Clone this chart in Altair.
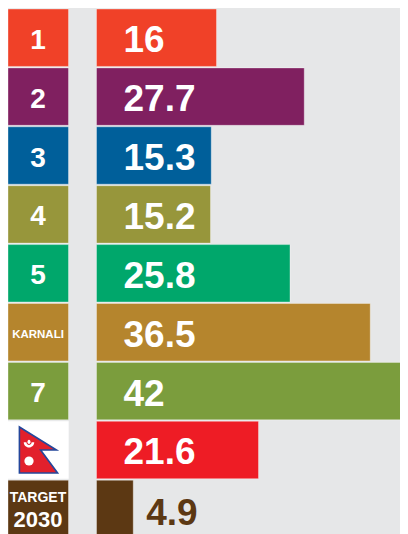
import altair as alt
import pandas as pd

rows = ["1", "2", "3", "4", "5", "KARNALI", "7", "NEPAL", "TARGET"]
values = [16, 27.7, 15.3, 15.2, 25.8, 36.5, 42, 21.6, 4.9]
value_labels = ["16", "27.7", "15.3", "15.2", "25.8", "36.5", "42", "21.6", "4.9"]
colors = ["#f04128", "#802060", "#005f9a", "#97963b", "#00a76b",
          "#b5852d", "#7b9d3d", "#ee1c25", "#5c3813"]
box_colors = colors[:7] + ["#ffffff"] + colors[8:]
BG = "#e6e7e8"
FONT = "Liberation Sans"

FLAG = "M-0.83,-1 L0.78,0 L0.09,0 L0.83,1 L-0.83,1 Z"
MOON = "M-1,-0.5 A1,1 0 0 0 1,-0.5 L0.5,-0.5 A0.5,0.5 0 0 1 -0.5,-0.5 Z M-0.3,-0.5 A0.3,0.3 0 0 0 0.3,-0.5 A0.3,0.5 0 0 0 -0.3,-0.5 Z"

df = pd.DataFrame({"row": rows, "value": values, "label": value_labels,
                   "color": colors, "box": box_colors})

W, H = 392, 526
y = alt.Y("row:N", axis=None, sort=rows,
          scale=alt.Scale(domain=rows, range=[1, 529.6], paddingInner=0.025, paddingOuter=0))
x_scale = alt.Scale(domain=[0, (W - 88.5) / 7.5], range=[88.5, W], nice=False)
x = alt.X("value:Q", axis=None, scale=x_scale)
edge = dict(stroke="#ffffff", strokeOpacity=0.35, strokeWidth=1)

boxes = alt.Chart(df).mark_bar(clip=True, **edge).encode(
    x=alt.value(0), x2=alt.value(60.5), y=y, color=alt.Color("box:N", scale=None))


def box_text(row, text, size, dy=0, weight="bold"):
    return alt.Chart(df).transform_filter(alt.datum.row == row).mark_text(
        text=text, fontSize=size, font=FONT, fontWeight=weight, color="#ffffff", dy=dy
    ).encode(x=alt.value(30), y=y)


digits = [box_text(r, r, 28, 3) for r in ["1", "2", "3", "4", "5", "7"]]
karnali = box_text("KARNALI", "KARNALI", 11.5, 3)
target = box_text("TARGET", "TARGET", 14, -11)
year = box_text("TARGET", "2030", 22, 11)


def flag_point(shape, size, fill, dx, dy, **kw):
    return alt.Chart(df).transform_filter(alt.datum.row == "NEPAL").mark_point(
        shape=shape, size=size, filled=True, fill=fill, opacity=1, xOffset=dx, yOffset=dy, **kw
    ).encode(x=alt.value(30), y=y)


flag = flag_point(FLAG, 2116, "#e2202c", 0.5, 0, stroke="#24479b", strokeWidth=1.6)
moon = flag_point(MOON, 110, "#ffffff", -9, -5)
sun = flag_point("circle", 85, "#ffffff", -9, 11)

bars = alt.Chart(df).mark_bar(clip=True, **edge).encode(
    x=x, y=y, color=alt.Color("color:N", scale=None))
inside = alt.Chart(df).transform_filter(alt.datum.row != "TARGET").mark_text(
    align="left", dx=115.5, dy=3.5, fontSize=37, font=FONT, fontWeight="bold", color="#ffffff"
).encode(x=alt.value(0), y=y, text="label:N")
outside = alt.Chart(df).transform_filter(alt.datum.row == "TARGET").mark_text(
    align="left", dx=13, dy=5, fontSize=37, font=FONT, fontWeight="bold", color="#5c3813"
).encode(x=x, y=y, text="label:N")

chart = alt.layer(boxes, *digits, karnali, target, year, flag, moon, sun, bars, inside, outside).properties(
    width=W, height=H, padding=0, background=BG, autosize=alt.AutoSizeParams(type="none")
).configure_view(stroke=None)

chart.save("out.html", embed_options={"renderer": "svg", "actions": False})
